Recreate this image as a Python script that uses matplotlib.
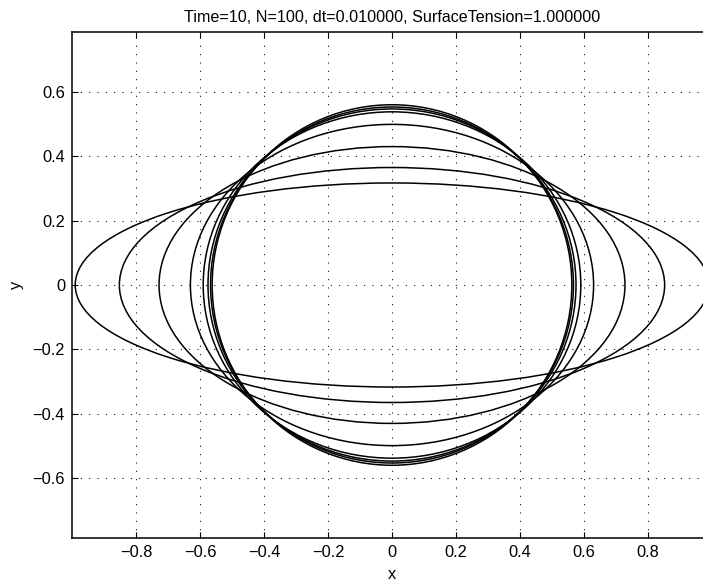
import matplotlib
matplotlib.use('Agg')
import matplotlib.pyplot as plt
from matplotlib.patches import Ellipse

# semi-axes of the interface at each saved time
semi_x = [0.99, 0.852, 0.728, 0.630, 0.590, 0.575, 0.567, 0.562]
semi_y = [0.317, 0.365, 0.430, 0.499, 0.538, 0.547, 0.553, 0.560]

xticks = [-0.8, -0.6, -0.4, -0.2, 0, 0.2, 0.4, 0.6, 0.8]
xticklabels = ['\u22120.8', '\u22120.6', '\u22120.4', '\u22120.2', '0', '0.2', '0.4', '0.6', '0.8']
yticks = [-0.6, -0.4, -0.2, 0, 0.2, 0.4, 0.6]
yticklabels = ['\u22120.6', '\u22120.4', '\u22120.2', '0', '0.2', '0.4', '0.6']

plt.rcParams['font.family'] = ['Liberation Sans', 'DejaVu Sans']
plt.rcParams['font.size'] = 11.8

fig = plt.figure(figsize=(7.03, 5.83), dpi=100)
ax = fig.add_axes([72/703, 45/583, 640/703, 506/583])

for a, b in zip(semi_x, semi_y):
    ax.add_patch(Ellipse((0, 0), 2*a, 2*b, fill=False, edgecolor='black', linewidth=1.1))

ax.set_xlim(-1, 1)
ax.set_ylim(-0.786, 0.786)
ax.set_xticks(xticks)
ax.set_xticklabels(xticklabels)
ax.set_yticks(yticks)
ax.set_yticklabels(yticklabels)

ax.tick_params(direction='in', length=4.5, width=0.8, top=True, right=True, pad=5)
ax.grid(True, color='black', linestyle=(0, (1, 7)), linewidth=0.75)
for s in ax.spines.values():
    s.set_linewidth(1.1)

ax.set_xlabel('x', labelpad=5)
ax.set_ylabel('y', labelpad=6)
ax.set_title('Time=10, N=100, dt=0.010000, SurfaceTension=1.000000', fontsize=11.6, pad=7)

fig.savefig('out.png', dpi=100)
